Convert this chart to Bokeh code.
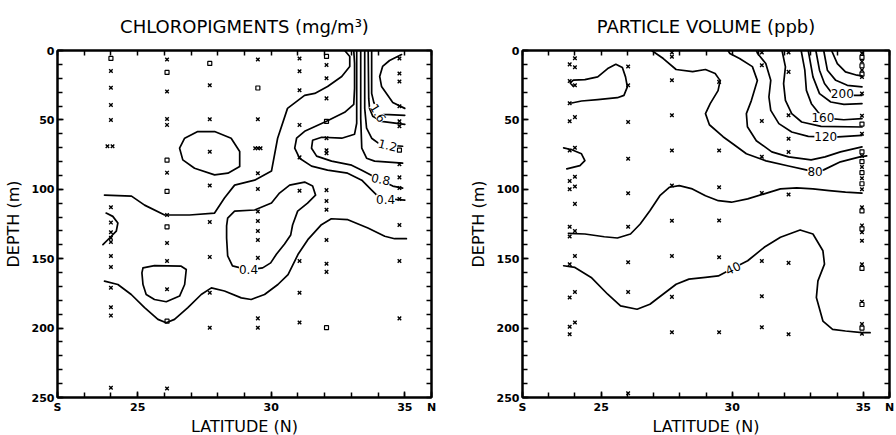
from bokeh.plotting import figure
from bokeh.models import ColumnDataSource, LabelSet, LinearAxis, FixedTicker, Range1d
from bokeh.layouts import row
from bokeh.core.properties import value
from bokeh.embed import file_html
from bokeh.resources import INLINE

FONT = "DejaVu Sans"

# ---------------- axes ----------------
x_major_ticks = [22, 25, 30, 35, 36]
x_tick_names = {22: "S", 36: "N"}
x_minor_ticks = list(range(22, 37))
y_major_ticks = [0, 50, 100, 150, 200, 250]
y_minor_ticks = list(range(0, 251, 10))

# ---------------- CHLOROPIGMENTS: sample stations ----------------
chl_st24_x = [14.8, 26.9, 39.3, 50, 113, 124, 131, 135, 138, 148, 156, 171, 185, 191, 243]
chl_st26_x = [6.5, 29.5, 49.3, 53.6, 88, 118.5, 138.7, 151.6, 172, 243.5]
chl_st277_x = [25, 49.6, 73, 97.3, 123.6, 148.7, 174.6, 199.7]
chl_st295_x = [6.5, 49.6, 70.4, 88.4, 99.8, 116, 122.8, 130, 136.5, 149.4, 193, 199.7]
chl_st31_x = [5.7, 15, 28.7, 53.6, 77, 101, 151.6, 174.6, 196]
chl_st32_x = [10.5, 20, 34.5, 63.2, 71.8, 74, 100.6, 108.5, 114.7, 136.5, 153.7, 159.5]
chl_st348_x = [5.7, 16.5, 22.3, 40.2, 51, 54.6, 82, 91.4, 99, 107, 125.7, 151.6, 193]
chl_extra_lat = [23.87, 24.06, 29.4, 29.6]
chl_extra_depth = [69, 69, 70.4, 70.4]
chl_sq_lat = [24.0, 26.1, 26.1, 26.1, 26.1, 26.1, 27.7, 29.5, 32.07, 32.07, 32.07, 34.8]
chl_sq_depth = [5.7, 15.8, 79, 101.5, 127, 195, 9.3, 27, 4.3, 51, 199.7, 71.8]

# ---------------- CHLOROPIGMENTS: contour lines ----------------
chl_a_lat = [23.76, 24.77, 25.26, 26.01, 26.94, 27.88, 28.25, 28.63, 29.38, 30.01, 30.24, 30.61, 31.25, 31.63, 32.11, 32.64, 32.94, 32.94, 32.75]
chl_a_depth = [104.2, 104.9, 111.4, 118.5, 118.5, 117.1, 106.3, 97.0, 93.4, 86.9, 63.2, 41.7, 32.3, 30.9, 25.9, 18.7, 11.5, 4.3, 0]
chl_oval_lat = [26.57, 26.76, 27.25, 27.88, 28.50, 28.82, 28.82, 28.38, 27.88, 27.13, 26.69, 26.57]
chl_oval_depth = [70.4, 63.2, 58.4, 58.4, 63.2, 72.8, 83.6, 88.4, 89.6, 84.8, 78.8, 70.4]
chl_e_lat = [23.82, 24.07, 24.26, 24.20, 23.95, 23.70]
chl_e_depth = [117.1, 119.5, 124.3, 130.2, 135.1, 139.9]
chl_f_lat = [25.20, 25.63, 26.63, 26.82, 26.76, 26.57, 26.07, 25.63, 25.32, 25.20, 25.16, 25.20]
chl_f_depth = [156.6, 155.0, 155.4, 157.8, 168.6, 176.9, 181.0, 179.4, 175.8, 168.6, 160.2, 156.6]
chl_g_lat = [23.76, 24.26, 24.76, 25.26, 25.76, 26.07, 26.38, 26.88, 27.38, 27.76, 28.25, 28.88, 29.25, 29.75, 30.25, 30.63, 31.00, 31.37, 31.88, 32.25, 32.87, 33.62, 34.25, 34.62, 35.06]
chl_g_depth = [166.2, 168.6, 175.8, 185.3, 193.7, 196.1, 193.7, 185.3, 175.8, 171.0, 173.3, 178.2, 179.4, 175.8, 168.6, 161.4, 147.0, 136.3, 125.5, 121.2, 121.9, 127.9, 133.8, 135.6, 135.6]
chl_h_lat = [28.37, 28.63, 29.38, 30.01, 30.31, 30.69, 31.25, 31.55, 31.66, 31.36, 30.99, 30.80, 30.73, 30.50, 30.20, 29.98, 29.68, 29.15, 28.55, 28.37, 28.33, 28.33, 28.37]
chl_h_depth = [120.7, 115.7, 114.9, 109.9, 102.7, 97.0, 94.8, 97.7, 104.2, 109.9, 115.7, 125.7, 132.9, 139.4, 146.6, 153.0, 156.6, 158.0, 155.2, 148.0, 135.1, 126.4, 120.7]
chl_04_lat = [35.00, 34.43, 33.99, 33.76, 33.39, 32.86, 32.11, 31.51, 31.06, 30.88, 30.95, 31.25, 32.07, 32.75, 33.09, 33.12, 33.12, 33.09]
chl_04_depth = [107.8, 107.0, 104.9, 100.6, 93.4, 88.4, 86.2, 83.3, 77.6, 70.4, 63.2, 58.2, 51.0, 44.5, 38.8, 27.3, 9.3, 0]
chl_08_lat = [34.92, 34.55, 34.10, 33.80, 33.39, 33.01, 32.26, 31.70, 31.51, 31.55, 31.89, 32.64, 33.12, 33.20, 33.20, 33.20]
chl_08_depth = [99.1, 97.7, 93.4, 90.5, 86.2, 82.6, 79.7, 76.1, 70.4, 64.7, 62.5, 63.2, 60.3, 52.4, 27.3, 0]
chl_10_lat = [33.35, 33.35, 33.39, 33.57, 33.87, 34.92]
chl_10_depth = [0, 48.9, 70.4, 77.6, 79.7, 81.2]
chl_12_lat = [33.50, 33.50, 33.57, 33.76, 34.06, 34.36, 34.92]
chl_12_depth = [0, 41.7, 56.0, 63.2, 67.5, 68.2, 69.0]
chl_14_lat = [33.63, 33.65, 33.68, 33.80, 34.13, 35.00]
chl_14_depth = [0, 34.5, 41.7, 47.4, 51.0, 53.2]
chl_16_lat = [33.76, 33.76, 33.84, 33.99, 34.21, 35.00]
chl_16_depth = [0, 30.9, 37.4, 43.1, 46.0, 46.7]
chl_20_lat = [34.88, 34.43, 34.17, 34.06, 34.13, 34.36, 34.55, 35.00]
chl_20_depth = [2.9, 7.2, 11.5, 18.7, 25.9, 32.3, 37.4, 41.7]

chl_label_text = ["1.6", "1.2", "0.8", "0.4", "0.4"]
chl_label_lat = [34.0, 34.36, 34.10, 34.28, 29.15]
chl_label_depth = [45.0, 68.2, 92.7, 107.0, 158.0]
chl_label_angle = [-1.0, -0.25, -0.2, 0.0, 0.0]

# ---------------- PARTICLE VOLUME: sample stations ----------------
pv_st238_x = [10, 22, 38, 51, 72, 94, 100, 127, 134, 154, 178, 199, 204.5]
pv_st240_x = [5.6, 12, 25, 48, 70, 91, 98, 110.5, 130, 148, 174, 196]
pv_st26_x = [11.6, 25, 51.5, 78, 102.8, 127, 152.5, 174, 247]
pv_st277_x = [1.5, 4.5, 21.5, 46.7, 72, 97.3, 122.7, 148, 177.5, 203]
pv_st295_x = [22.6, 72, 98.5, 122.5, 149, 203]
pv_st311_x = [1.5, 10.6, 50.8, 76.6, 102.6, 151.7, 177, 199.4]
pv_st321_x = [1.5, 15.4, 46.7, 63.6, 73.2, 103.8, 153, 204.5]
pv_st35_x = [2, 8, 14, 19, 31, 47, 60, 76, 84, 92, 100, 113, 126, 131, 137, 154, 181, 197, 204]
pv_st35_sq = [5, 11, 17, 53, 73, 80, 88, 96, 115.6, 128.5, 157, 183, 200]

# ---------------- PARTICLE VOLUME: contour lines ----------------
pv_r1_lat = [23.94, 23.82, 23.94, 24.38, 24.87, 25.25, 25.56, 25.81, 25.93, 26.0, 25.87, 25.62, 24.87, 24.25, 23.88]
pv_r1_depth = [25.8, 23.4, 21.4, 21.0, 19.0, 13.0, 9.9, 12.3, 19.0, 26.2, 32.3, 34.0, 35.4, 36.4, 37.8]
pv_r2_lat = [23.57, 23.88, 24.25, 24.38, 24.19, 23.69]
pv_r2_depth = [70.1, 71.5, 74.4, 79.3, 82.9, 85.3]
pv_40_lat = [23.57, 24.0, 24.62, 25.25, 25.74, 26.37, 26.86, 27.36, 27.86, 28.35, 28.98, 29.47, 30.03, 30.59, 31.22, 31.84, 32.59, 33.08, 33.46, 33.52, 33.27, 33.21, 33.46, 33.83, 34.32, 34.95, 35.26]
pv_40_depth = [155.1, 156.3, 163.5, 175.6, 184.0, 186.4, 182.8, 175.6, 168.4, 164.7, 163.5, 162.4, 156.8, 151.5, 141.8, 134.6, 129.3, 132.2, 144.3, 153.9, 166.0, 178.0, 194.9, 200.9, 202.1, 203.3, 203.3]
pv_60_lat = [23.75, 24.38, 25.12, 25.62, 26.12, 26.49, 26.86, 27.24, 27.61, 27.98, 28.48, 28.98, 29.47, 29.97, 30.59, 31.22, 31.84, 32.46, 33.08, 33.70, 34.32, 34.95]
pv_60_depth = [131.7, 132.2, 134.2, 135.1, 132.2, 125.0, 115.4, 104.6, 98.5, 97.3, 99.7, 104.6, 108.2, 109.3, 106.9, 103.3, 99.7, 99.0, 99.7, 100.9, 102.1, 102.8]
pv_80_lat = [26.93, 27.37, 27.86, 28.49, 28.98, 29.35, 29.54, 29.46, 29.16, 28.98, 29.13, 29.65, 30.02, 30.54, 31.29, 32.15, 32.82, 33.16, 33.49, 34.13, 34.87, 35.13]
pv_80_depth = [0, 5.8, 13.7, 15.2, 13.7, 16.6, 21.7, 28.9, 38.3, 45.5, 53.5, 62.1, 67.2, 74.4, 79.5, 83.2, 86.0, 87.4, 86.0, 80.2, 76.6, 75.9]
pv_100_lat = [29.84, 29.91, 30.28, 30.77, 30.96, 30.73, 30.54, 30.58, 30.92, 31.51, 32.15, 33.01, 33.54, 34.13, 34.95]
pv_100_depth = [0, 2.2, 5.8, 11.6, 21.7, 36.1, 45.5, 54.9, 65.0, 73.0, 76.6, 78.8, 76.6, 73.0, 69.4]
pv_120_lat = [30.92, 30.97, 31.28, 31.47, 31.40, 31.47, 31.78, 32.27, 32.90, 33.57, 33.89, 34.95]
pv_120_depth = [0, 2.2, 9.4, 21.5, 33.5, 43.1, 52.7, 58.7, 61.9, 62.2, 62.4, 61.2]
pv_140_lat = [31.90, 32.03, 31.96, 32.03, 32.27, 32.65, 33.39, 34.95]
pv_140_depth = [0, 11.8, 23.8, 35.9, 45.5, 51.5, 54.7, 55.1]
pv_160_lat = [32.63, 32.77, 32.83, 33.02, 33.27, 33.46, 33.75, 34.26, 34.95]
pv_160_depth = [0, 14.2, 28.7, 38.3, 44.3, 48.2, 49.1, 49.9, 49.1]
pv_180_lat = [32.90, 33.08, 33.33, 33.76, 34.26, 34.95]
pv_180_depth = [0, 19.0, 31.1, 37.1, 38.8, 38.3]
pv_200_lat = [33.19, 33.33, 33.52, 33.76, 34.20, 34.64, 34.95]
pv_200_depth = [0, 14.2, 23.8, 29.8, 31.1, 32.3, 32.3]
pv_220_lat = [33.49, 33.63, 33.95, 34.39, 34.95]
pv_220_depth = [0, 14.2, 21.5, 25.1, 26.2]
pv_240_lat = [33.79, 34.01, 34.32, 34.76, 34.95]
pv_240_depth = [0, 9.4, 15.4, 17.8, 18.3]

pv_label_text = ["200", "160", "120", "80", "40"]
pv_label_lat = [34.20, 33.46, 33.57, 33.16, 30.03]
pv_label_depth = [31.1, 48.4, 62.2, 87.4, 156.8]
pv_label_angle = [0.0, 0.0, 0.0, 0.0, 0.45]


def flatten(stations):
    la, de = [], []
    for lat, depths in stations:
        for d in depths:
            la.append(lat)
            de.append(d)
    return la, de


def make_panel(title, lines, xs, sqs, labels, fw, fh, ml, mr, mt, mb):
    p = figure(title=title, frame_width=fw, frame_height=fh,
               x_range=Range1d(22, 36), y_range=Range1d(250, 0),
               min_border_left=ml, min_border_right=mr,
               min_border_top=mt, min_border_bottom=mb,
               output_backend="svg", toolbar_location=None,
               background_fill_color="white", border_fill_color="white")
    p.grid.visible = False
    p.outline_line_color = "black"
    p.outline_line_width = 2

    p.title.align = "center"
    p.title.text_font = FONT
    p.title.text_font_size = "18px"
    p.title.text_font_style = "normal"
    p.title.text_color = "black"
    p.title.standoff = 27

    top = LinearAxis(ticker=FixedTicker(ticks=[], minor_ticks=x_minor_ticks),
                     major_label_standoff=0)
    right = LinearAxis(ticker=FixedTicker(ticks=[], minor_ticks=y_minor_ticks),
                       major_label_standoff=0)
    p.add_layout(top, "above")
    p.add_layout(right, "right")

    xa = p.below[0]
    xa.ticker = FixedTicker(ticks=x_major_ticks, minor_ticks=x_minor_ticks)
    xa.major_label_overrides = x_tick_names
    ya = p.left[0]
    ya.ticker = FixedTicker(ticks=y_major_ticks, minor_ticks=y_minor_ticks)

    for ax in p.axis:
        ax.major_tick_in = 6
        ax.major_tick_out = 0
        ax.minor_tick_in = 5
        ax.minor_tick_out = 0
        ax.axis_line_width = 2
        ax.major_tick_line_width = 1.5
        ax.minor_tick_line_width = 1.5
        ax.axis_line_color = "black"
        ax.major_tick_line_color = "black"
        ax.minor_tick_line_color = "black"

    for ax in (xa, ya):
        ax.major_label_text_font = FONT
        ax.major_label_text_font_size = "11px"
        ax.major_label_text_font_style = "bold"
        ax.major_label_text_color = "black"
        ax.major_label_standoff = 3
        ax.axis_label_text_font = FONT
        ax.axis_label_text_font_size = "16px"
        ax.axis_label_text_font_style = "normal"
        ax.axis_label_text_color = "black"
    xa.axis_label = "LATITUDE (N)"
    xa.axis_label_standoff = 0
    ya.axis_label = "DEPTH (m)"
    ya.axis_label_standoff = 6

    # sample points
    p.scatter(xs[0], xs[1], marker="x", size=5, line_color="black", line_width=1.4)
    p.scatter(sqs[0], sqs[1], marker="square", size=4, line_color="black",
              fill_color="white", line_width=1.2)

    # contour lines
    for la, de in lines:
        p.line(la, de, line_color="black", line_width=1.7, line_join="round", line_cap="round")

    # contour labels
    src = ColumnDataSource(dict(x=labels[0], y=labels[1], text=labels[2], angle=labels[3]))
    p.add_layout(LabelSet(x="x", y="y", text="text", angle="angle", source=src,
                          text_font=value(FONT), text_font_size=value("12px"),
                          text_align="center", text_baseline="middle",
                          text_color="black", background_fill_color="white"))
    return p


chl_xs = flatten([(24.0, chl_st24_x), (26.1, chl_st26_x), (27.7, chl_st277_x),
                  (29.5, chl_st295_x), (31.06, chl_st31_x), (32.07, chl_st32_x),
                  (34.8, chl_st348_x)])
chl_xs = (chl_xs[0] + chl_extra_lat, chl_xs[1] + chl_extra_depth)

pv_xs = flatten([(23.8, pv_st238_x), (24.0, pv_st240_x), (26.03, pv_st26_x),
                 (27.7, pv_st277_x), (29.5, pv_st295_x), (31.13, pv_st311_x),
                 (32.15, pv_st321_x), (34.95, pv_st35_x)])
pv_sqs = flatten([(34.95, pv_st35_sq)])

left = make_panel(
    "CHLOROPIGMENTS (mg/m\u00b3)",
    [(chl_a_lat, chl_a_depth), (chl_oval_lat, chl_oval_depth), (chl_e_lat, chl_e_depth),
     (chl_f_lat, chl_f_depth), (chl_g_lat, chl_g_depth), (chl_h_lat, chl_h_depth),
     (chl_04_lat, chl_04_depth), (chl_08_lat, chl_08_depth), (chl_10_lat, chl_10_depth),
     (chl_12_lat, chl_12_depth), (chl_14_lat, chl_14_depth), (chl_16_lat, chl_16_depth),
     (chl_20_lat, chl_20_depth)],
    chl_xs, (chl_sq_lat, chl_sq_depth),
    (chl_label_lat, chl_label_depth, chl_label_text, chl_label_angle),
    fw=374, fh=347, ml=53, mr=21, mt=50, mb=36)

right = make_panel(
    "PARTICLE VOLUME (ppb)",
    [(pv_r1_lat, pv_r1_depth), (pv_r2_lat, pv_r2_depth), (pv_40_lat, pv_40_depth),
     (pv_60_lat, pv_60_depth), (pv_80_lat, pv_80_depth), (pv_100_lat, pv_100_depth),
     (pv_120_lat, pv_120_depth), (pv_140_lat, pv_140_depth), (pv_160_lat, pv_160_depth),
     (pv_180_lat, pv_180_depth), (pv_200_lat, pv_200_depth), (pv_220_lat, pv_220_depth),
     (pv_240_lat, pv_240_depth)],
    pv_xs, pv_sqs,
    (pv_label_lat, pv_label_depth, pv_label_text, pv_label_angle),
    fw=367, fh=347, ml=70, mr=11, mt=50, mb=36)

layout = row(left, right, spacing=0)
open("out.html", "w").write(file_html(layout, INLINE))
